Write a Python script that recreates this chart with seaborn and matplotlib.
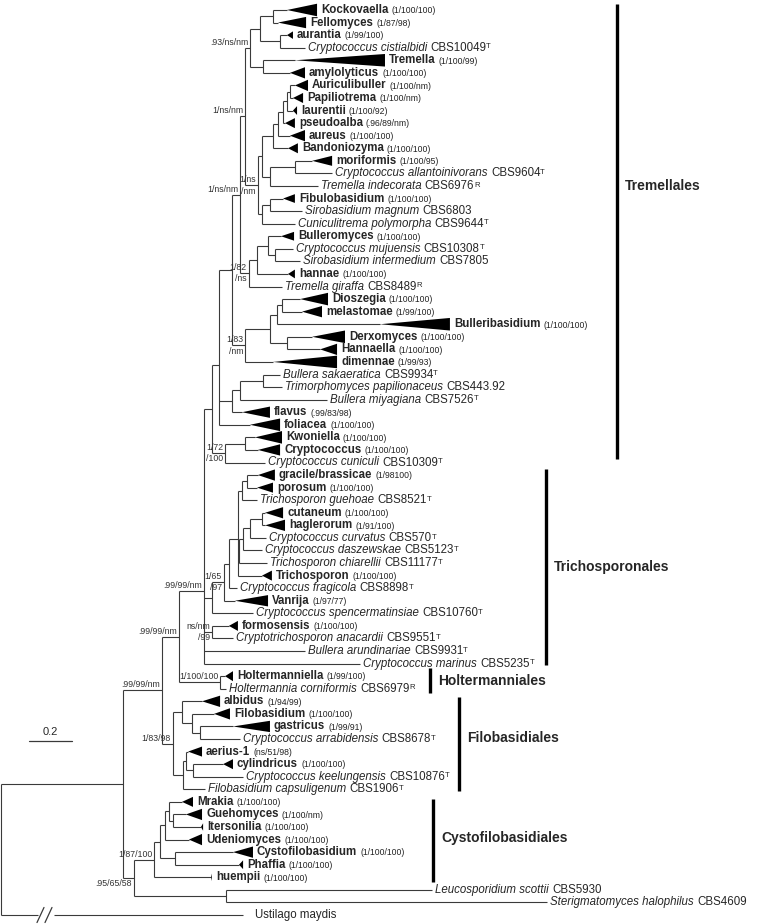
import numpy as np
import matplotlib
matplotlib.use("Agg")
import matplotlib.pyplot as plt
import seaborn as sns

# terminal taxa and collapsed clades, top to bottom
leaf_names = [
    "Kockovaella", "Fellomyces", "aurantia", "Cryptococcus cistialbidi", "Tremella", "amylolyticus",
    "Auriculibuller", "Papiliotrema", "laurentii", "pseudoalba", "aureus", "Bandoniozyma",
    "moriformis", "Cryptococcus allantoinivorans", "Tremella indecorata", "Fibulobasidium",
    "Sirobasidium magnum", "Cuniculitrema polymorpha", "Bulleromyces", "Cryptococcus mujuensis",
    "Sirobasidium intermedium", "hannae", "Tremella giraffa", "Dioszegia", "melastomae",
    "Bulleribasidium", "Derxomyces", "Hannaella", "dimennae", "Bullera sakaeratica",
    "Trimorphomyces papilionaceus", "Bullera miyagiana", "flavus", "foliacea", "Kwoniella",
    "Cryptococcus", "Cryptococcus cuniculi", "gracile/brassicae", "porosum", "Trichosporon guehoae",
    "cutaneum", "haglerorum", "Cryptococcus curvatus", "Cryptococcus daszewskae",
    "Trichosporon chiarellii", "Trichosporon", "Cryptococcus fragicola", "Vanrija",
    "Cryptococcus spencermatinsiae", "formosensis", "Cryptotrichosporon anacardii",
    "Bullera arundinariae", "Cryptococcus marinus", "Holtermanniella", "Holtermannia corniformis",
    "albidus", "Filobasidium", "gastricus", "Cryptococcus arrabidensis", "aerius-1", "cylindricus",
    "Cryptococcus keelungensis", "Filobasidium capsuligenum", "Mrakia", "Guehomyces", "Itersonilia",
    "Udeniomyces", "Cystofilobasidium", "Phaffia", "huempii", "Leucosporidium scottii",
    "Sterigmatomyces halophilus", "Ustilago maydis",
]
# clade support (PP/ML/MP) for collapsed clades, culture number for single strains
leaf_note = [
    "(1/100/100)", "(1/87/98)", "(1/99/100)", "CBS10049", "(1/100/99)", "(1/100/100)",
    "(1/100/nm)", "(1/100/nm)", "(1/100/92)", "(.96/89/nm)", "(1/100/100)", "(1/100/100)",
    "(1/100/95)", "CBS9604", "CBS6976", "(1/100/100)",
    "CBS6803", "CBS9644", "(1/100/100)", "CBS10308",
    "CBS7805", "(1/100/100)", "CBS8489", "(1/100/100)", "(1/99/100)",
    "(1/100/100)", "(1/100/100)", "(1/100/100)", "(1/99/93)", "CBS9934",
    "CBS443.92", "CBS7526", "(.99/83/98)", "(1/100/100)", "(1/100/100)",
    "(1/100/100)", "CBS10309", "(1/98100)", "(1/100/100)", "CBS8521",
    "(1/100/100)", "(1/91/100)", "CBS570", "CBS5123",
    "CBS11177", "(1/100/100)", "CBS8898", "(1/97/77)",
    "CBS10760", "(1/100/100)", "CBS9551",
    "CBS9931", "CBS5235", "(1/99/100)", "CBS6979",
    "(1/94/99)", "(1/100/100)", "(1/99/91)", "CBS8678", "(ns/51/98)", "(1/100/100)",
    "CBS10876", "CBS1906", "(1/100/100)", "(1/100/nm)", "(1/100/100)",
    "(1/100/100)", "(1/100/100)", "(1/100/100)", "(1/100/100)", "CBS5930",
    "CBS4609", "",
]
# T = type strain, R = reference strain
leaf_mark = [
    "", "", "", "T", "", "",
    "", "", "", "", "", "",
    "", "T", "R", "",
    "", "T", "", "T",
    "", "", "R", "", "",
    "", "", "", "", "T",
    "", "T", "", "", "",
    "", "T", "", "", "T",
    "", "", "T", "T",
    "T", "", "T", "",
    "T", "", "T",
    "T", "T", "", "R",
    "", "", "", "T", "", "",
    "T", "T", "", "", "",
    "", "", "", "", "",
    "", "",
]
# depth (substitutions/site from the root) where the terminal branch ends
leaf_start = [
    1.330, 1.288, 1.330, 1.414, 1.367, 1.344,
    1.367, 1.358, 1.358, 1.321, 1.344, 1.335,
    1.447, 1.540, 1.474, 1.312,
    1.400, 1.367, 1.302, 1.358,
    1.391, 1.335, 1.307, 1.391, 1.400,
    1.763, 1.447, 1.484, 1.265, 1.298,
    1.307, 1.516, 1.121, 1.158, 1.181,
    1.195, 1.228, 1.195, 1.191, 1.191,
    1.228, 1.228, 1.233, 1.214,
    1.237, 1.214, 1.098, 1.088,
    1.172, 1.060, 1.079,
    1.414, 1.670, 1.042, 1.047,
    0.935, 0.991, 1.079, 1.112, 0.870, 1.033,
    1.126, 0.949, 0.842, 0.860, 0.930,
    0.874, 1.079, 1.107, 0.977, 2.005,
    2.540, 1.126,
]
# depth reached by a collapsed clade (longest branch inside it)
leaf_end = [
    1.470, 1.419, 1.358, 1.414, 1.786, 1.414,
    1.428, 1.405, 1.377, 1.367, 1.414, 1.381,
    1.540, 1.540, 1.474, 1.367,
    1.400, 1.367, 1.363, 1.358,
    1.391, 1.367, 1.307, 1.521, 1.493,
    2.088, 1.600, 1.563, 1.563, 1.298,
    1.307, 1.516, 1.251, 1.298, 1.307,
    1.298, 1.228, 1.274, 1.265, 1.191,
    1.312, 1.321, 1.233, 1.214,
    1.237, 1.260, 1.098, 1.242,
    1.172, 1.102, 1.079,
    1.414, 1.670, 1.079, 1.047,
    1.019, 1.065, 1.251, 1.112, 0.935, 1.079,
    1.126, 0.949, 0.893, 0.935, 0.940,
    0.935, 1.172, 1.126, 0.981, 2.005,
    2.540, 1.126,
]
# spread of a collapsed clade (rows), 0 = single strain
leaf_span = [
    0.50, 0.45, 0.30, 0, 0.50, 0.45,
    0.45, 0.40, 0.35, 0.40, 0.45, 0.40,
    0.40, 0, 0, 0.35,
    0, 0, 0.35, 0,
    0, 0.35, 0, 0.50, 0.45,
    0.50, 0.50, 0.45, 0.50, 0,
    0, 0, 0.45, 0.50, 0.50,
    0.45, 0, 0.45, 0.40, 0,
    0.45, 0.45, 0, 0,
    0, 0.40, 0, 0.45,
    0, 0.40, 0,
    0, 0, 0.40, 0,
    0.45, 0.45, 0.45, 0, 0.40, 0.40,
    0, 0, 0.40, 0.45, 0.30,
    0.45, 0.45, 0.35, 0.30, 0,
    0, 0,
]

# internal nodes, children before parents (ints = leaves)
node_ids = [
    "n1", "n2", "n3", "n4", "n5", "n6", "n7", "n8", "n9", "n10", "n11", "n12", "n13",
    "n14", "n15", "n16", "n17", "n18", "n19", "n20", "n21", "n22", "n23", "n24", "n25", "n26",
    "n27", "n28", "n29", "n30", "n31", "n32", "n33", "n34", "n35", "n36", "n37", "n38", "n39",
    "n40", "n41", "n42", "n44", "n45", "n46", "n47", "n48", "n49", "n50", "n51", "n52",
    "n53", "n54", "n55", "n56", "n57", "n58", "n59", "n60", "n61", "n62", "n63", "n64", "n65",
    "n66", "n67", "root",
]
node_kids = [
    [0, 1], [2, 3], ["n1", "n2"], [4, 5], ["n3", "n4"], [6, 7], ["n6", 8], ["n7", 9],
    ["n8", 10], ["n9", 11], [12, 13], ["n11", 14], ["n10", "n12"],
    [15, 16], ["n14", 17], ["n13", "n15"], ["n5", "n16"], [19, 20], [18, "n18"], ["n19", 21],
    ["n20", 22], ["n17", "n21"], [23, 24], ["n23", 25], [26, 27], ["n24", "n25"],
    ["n26", 28], ["n22", "n27"], [29, 30], ["n29", 31], ["n30", 32], ["n28", "n31", 33],
    [34, 35], ["n33", 36], ["n32", "n34"], [37, 38], ["n36", 39], [40, 41], ["n38", 42],
    ["n39", 43], ["n40", 44], ["n37", "n41", 45], ["n42", 46], ["n44", 47], ["n45", 48],
    [49, 50], ["n35", "n46", "n47", 51, 52], [53, 54], ["n48", "n49"], [57, 58], [56, "n51"],
    [55, "n52"], [60, 61], [59, "n54"], ["n55", 62], ["n53", "n56"], ["n50", "n57"], [64, 65],
    [63, "n59"], ["n60", 66], [67, 68], ["n61", "n62"], ["n63", 69], [70, 71],
    ["n64", "n65"], ["n58", "n66"], ["n67", 72],
]
node_depth = [
    1.265, 1.298, 1.205, 1.219, 1.158, 1.344, 1.330, 1.312, 1.288, 1.265, 1.367, 1.251, 1.214,
    1.251, 1.214, 1.195, 1.135, 1.274, 1.242, 1.191, 1.153, 1.112, 1.307, 1.284, 1.330, 1.251,
    1.135, 1.074, 1.219, 1.112, 1.074, 1.014, 1.135, 1.042, 0.981, 1.144, 1.121, 1.214, 1.158,
    1.126, 1.107, 1.102, 1.060, 1.037, 0.981, 0.981, 0.944, 1.019, 0.828, 0.926, 0.888,
    0.842, 0.893, 0.860, 0.847, 0.800, 0.749, 0.800, 0.781, 0.763, 0.809, 0.740, 0.712, 1.047,
    0.619, 0.567, 0.0,
]
# PP/ML/MP; text after "\n" goes under the branch
node_support = [
    "", "", "", "", ".93/ns/nm", "", "", "", "", "", "", "", "",
    "", "", "1/ns\n/nm", "1/ns/nm", "", "", "", "1/82\n/ns", "1/ns/nm", "", "", "", "",
    "1/83\n/nm", "", "", "", "", "", "", "1/72\n/100", "", "", "", "", "",
    "", "", "", "", "1/65\n/97", "", "ns/nm\n/99", ".99/99/nm", "1/100/100", ".99/99/nm", "", "",
    "", "", "", "", "1/83/98", ".99/99/nm", "", "", "", "", "", "1/87/100", "",
    "\n.95/65/58", "", "",
]

order_names = ["Tremellales", "Trichosporonales", "Holtermanniales", "Filobasidiales",
               "Cystofilobasidiales"]
order_first = [0, 37, 53, 55, 63]
order_last = [36, 52, 54, 62, 69]

scale_len = 0.2

# ---- layout / style ----
sns.set_theme(style="white")
plt.rcParams["font.family"] = ["Liberation Sans", "DejaVu Sans"]

W, H = 757, 924
PX = 215.0                 # pixels per substitution/site
ROW = 905 / 72             # pixels per row
fig = plt.figure(figsize=(W / 100, H / 100), dpi=100)
ax = fig.add_axes([0, 0, 1, 1])
ax.set_xlim(-1 / PX, (W - 1) / PX)
ax.set_ylim((H - 10) / ROW, -10 / ROW)
ax.axis("off")

px = 1 / PX
line_kw = dict(color="#3a3a3a", lw=0.8, solid_capstyle="butt")

ypos, xpos = {}, {}
for i in range(len(leaf_names)):
    ypos[i] = float(i)
    xpos[i] = leaf_start[i]
for nid, kids, d in zip(node_ids, node_kids, node_depth):
    ypos[nid] = float(np.mean([ypos[k] for k in kids]))
    xpos[nid] = d

last = len(leaf_names) - 1
for nid, kids, d, sup in zip(node_ids, node_kids, node_depth, node_support):
    ys = [ypos[k] for k in kids]
    ax.plot([d, d], [min(ys), max(ys)], **line_kw)
    for k in kids:
        if nid == "root" and k == last:
            # broken outgroup branch
            ax.plot([d, 37 * px], [ypos[k]] * 2, **line_kw)
            ax.plot([53 * px, xpos[k]], [ypos[k]] * 2, **line_kw)
            for sx in (36, 44):
                ax.plot([sx * px, (sx + 7) * px], [ypos[k] + 0.6, ypos[k] - 0.6],
                        color="#3a3a3a", lw=0.9)
        else:
            ax.plot([d, xpos[k]], [ypos[k]] * 2, **line_kw)
    if sup:
        top, _, bottom = sup.partition("\n")
        if top:
            ax.text(d - 2 * px, ypos[nid] - 0.08, top, ha="right", va="bottom",
                    fontsize=6.3, color="#333333")
        if bottom:
            ax.text(d - 2 * px, ypos[nid] + 0.1, bottom, ha="right", va="top",
                    fontsize=6.3, color="#333333")

for i, name in enumerate(leaf_names):
    y = ypos[i]
    if leaf_span[i] > 0:
        h = leaf_span[i]
        ax.fill([leaf_start[i], leaf_end[i], leaf_end[i]], [y, y - h, y + h],
                color="black", lw=0)
        t = ax.text(leaf_end[i] + 4 * px, y, name, fontsize=8.3, fontweight="bold",
                    ha="left", va="center")
        ax.annotate(leaf_note[i], xy=(1, 0), xycoords=t, xytext=(2.2, 0.5),
                    textcoords="offset points", fontsize=6.2, ha="left", va="bottom",
                    color="#222222")
    else:
        upright = name == "Ustilago maydis"
        t = ax.text(leaf_end[i] + (12 if upright else 3) * px, y, name, fontsize=8.3,
                    style="normal" if upright else "italic", ha="left", va="center")
        if leaf_note[i]:
            t2 = ax.annotate(leaf_note[i], xy=(1, 0), xycoords=t, xytext=(2.4, 0),
                             textcoords="offset points", fontsize=8.3, ha="left",
                             va="bottom")
            if leaf_mark[i]:
                ax.annotate(leaf_mark[i], xy=(1, 1), xycoords=t2, xytext=(-0.2, -1.2),
                            textcoords="offset points", fontsize=5.6, ha="left", va="top")

# order bars
bar_px = [616, 545, 429, 458, 432]
bar_pad = [(0.45, -0.3), (0.45, 0.15), (0.65, 0.35), (0.35, 0.1), (0.2, 0.4)]
label_row = [14.0, 44.3, 53.4, 57.9, 65.9]
for name, a, b, bx, (p0, p1), lr in zip(order_names, order_first, order_last, bar_px,
                                         bar_pad, label_row):
    ax.plot([bx * px, bx * px], [a - p0, b + p1], color="black", lw=2.4,
            solid_capstyle="butt")
    ax.text((bx + 8) * px, lr, name, fontsize=10, fontweight="bold", ha="left",
            va="center")

# scale bar
sb_x0 = 28 * px
sb_row = (741 - 10) / ROW
ax.plot([sb_x0, sb_x0 + scale_len], [sb_row, sb_row], color="#3a3a3a", lw=0.9)
ax.text(sb_x0 + scale_len / 2, sb_row - 0.35, f"{scale_len:g}", ha="center", va="bottom",
        fontsize=8)

fig.savefig("out.png", dpi=100)
